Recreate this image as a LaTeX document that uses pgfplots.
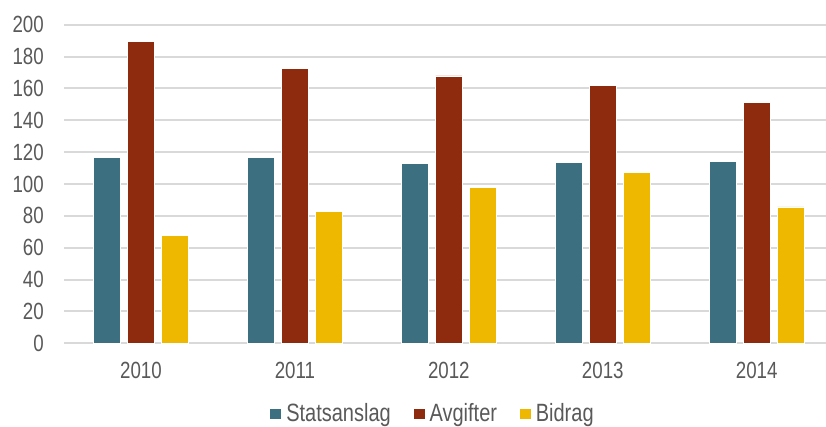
\documentclass[border=0pt]{standalone}
\usepackage{pgfplots}
\pgfplotsset{compat=1.18}
\usepackage{fontspec}
\setmainfont{Liberation Sans}[FakeStretch=0.8]
\definecolor{cStat}{HTML}{3C6F80}
\definecolor{cAvg}{HTML}{8E2A0E}
\definecolor{cBid}{HTML}{EEB800}
\definecolor{cGrid}{HTML}{D9D9D9}
\definecolor{cText}{HTML}{595959}
\begin{document}
\fontsize{11.7pt}{13pt}\selectfont
\begin{tikzpicture}
\begin{axis}[
  scale only axis,
  width=381pt, height=159.3pt,
  xmin=-0.5, xmax=4.45,
  ymin=0, ymax=200,
  ytick={0,20,...,200},
  xtick={0,1,2,3,4},
  xticklabels={2010,2011,2012,2013,2014},
  ybar=3.7pt, bar width=13.3pt,
  ymajorgrids,
  grid style={cGrid, line width=1pt},
  axis line style={draw=none},
  major tick style={draw=none},
  tick label style={font=\fontsize{11.7pt}{13pt}\selectfont, text=cText},
  /pgf/number format/assume math mode=true,
  yticklabel style={xshift=-6pt},
  xticklabel style={yshift=-1pt},
  legend style={draw=none, fill=none, at={(0.485,0)}, anchor=center, yshift=-35.5pt,
    font=\fontsize{12.5pt}{14pt}\selectfont, text=cText, legend columns=-1,
    /tikz/every even column/.append style={column sep=9pt}},
  legend image code/.code={\fill[#1] (0pt,-2.8pt) rectangle (6pt,2.8pt);},
  clip=false,
]
\addplot[fill=cStat, draw=white, line width=0.4pt] coordinates {(0,116.7) (1,116.5) (2,113.0) (3,113.6) (4,114.4)};
\addplot[fill=cAvg, draw=white, line width=0.4pt] coordinates {(0,189.3) (1,172.4) (2,167.8) (3,162.1) (4,151.3)};
\addplot[fill=cBid, draw=white, line width=0.4pt] coordinates {(0,67.6) (1,82.8) (2,97.9) (3,107.1) (4,85.6)};
\legend{Statsanslag, Avgifter, Bidrag}
\end{axis}
\pgfresetboundingbox
\path[use as bounding box] ([xshift=-32pt,yshift=-41.85pt]current axis.south west) rectangle ([yshift=12.35pt]current axis.north east);
\end{tikzpicture}
\end{document}
